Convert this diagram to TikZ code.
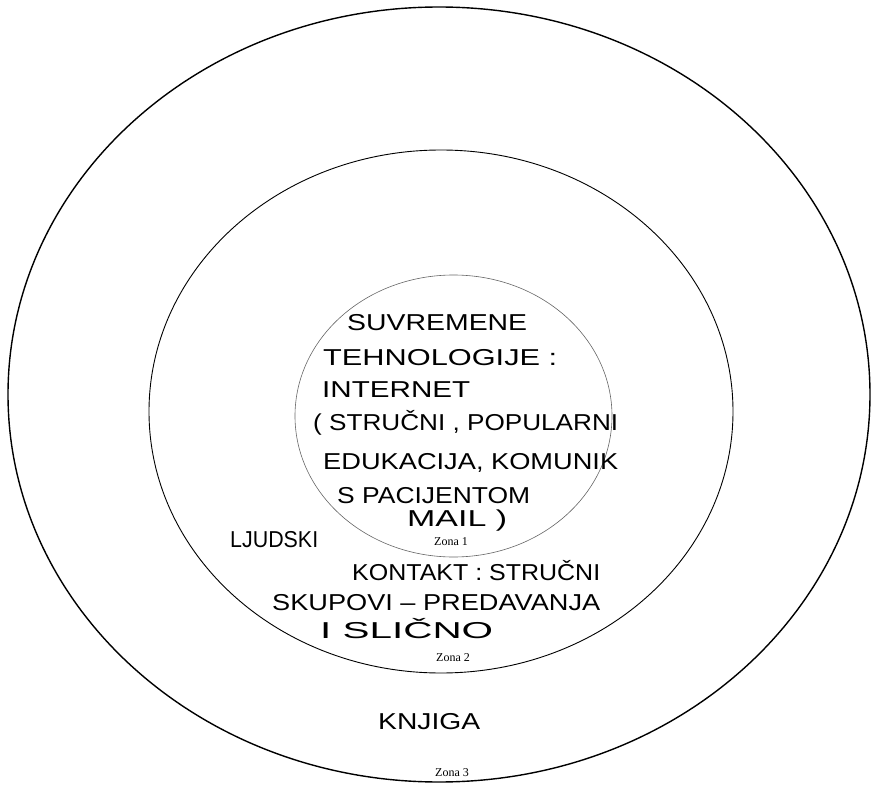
\documentclass[tikz,border=0pt]{standalone}
\usepackage{fontspec}
\usepackage{graphicx}
\setmainfont{Liberation Serif}
\newfontfamily\handfont{Liberation Sans}
\newcommand\hwline[2]{\resizebox{#1pt}{\height}{#2}}
\tikzset{
  zone/.style={inner sep=0pt, font=\fontsize{12}{12}\selectfont},
  hand/.style={inner sep=0pt, anchor=west, font=\handfont\fontsize{23}{23}\selectfont},
  outerring/.style={draw=black, line width=1.4pt},
  middlering/.style={draw=black, line width=0.9pt},
  innerring/.style={draw=black!60, line width=0.6pt},
}
\begin{document}
\begin{tikzpicture}[x=1pt,y=-1pt]
  \fill[white] (0,0) rectangle (871,789);
  \useasboundingbox (0,0) rectangle (871,789);
  % rings
  \draw[outerring] (439,394.5) ellipse [x radius=431, y radius=387.5];
  \draw[middlering] (441,411.5) ellipse [x radius=292, y radius=261.5];
  \draw[innerring] (453.5,416) ellipse [x radius=158.5, y radius=141];
  % zone labels
  \node[zone] (z1) at (451,542) {Zona 1};
  \node[zone] (z2) at (453,658) {Zona 2};
  \node[zone] (z3) at (452,773) {Zona 3};
  % handwritten texts
  \node[hand] (l1) at (347,323) {\hwline{180}{SUVREMENE}};
  \node[hand] (l2) at (323,358) {\hwline{234}{TEHNOLOGIJE :}};
  \node[hand] (l3) at (322,390) {\hwline{148}{INTERNET}};
  \node[hand] (l4) at (313,423) {\hwline{305}{( STRUČNI , POPULARNI}};
  \node[hand] (l5) at (323,463) {\hwline{295}{EDUKACIJA, KOMUNIK}};
  \node[hand] (l6) at (337,496) {\hwline{193}{S PACIJENTOM}};
  \node[hand] (l7) at (407,521) {\hwline{100}{MAIL )}};
  \node[hand] (l8) at (230,540) {\hwline{88}{LJUDSKI}};
  \node[hand] (l9) at (352,571) {\hwline{248}{KONTAKT : STRUČNI}};
  \node[hand] (l10) at (272,603) {\hwline{328}{SKUPOVI – PREDAVANJA}};
  \node[hand] (l11) at (320,629) {\hwline{173}{I SLIČNO}};
  \node[hand] (l12) at (378,722) {\hwline{102}{KNJIGA}};
\end{tikzpicture}
\end{document}
